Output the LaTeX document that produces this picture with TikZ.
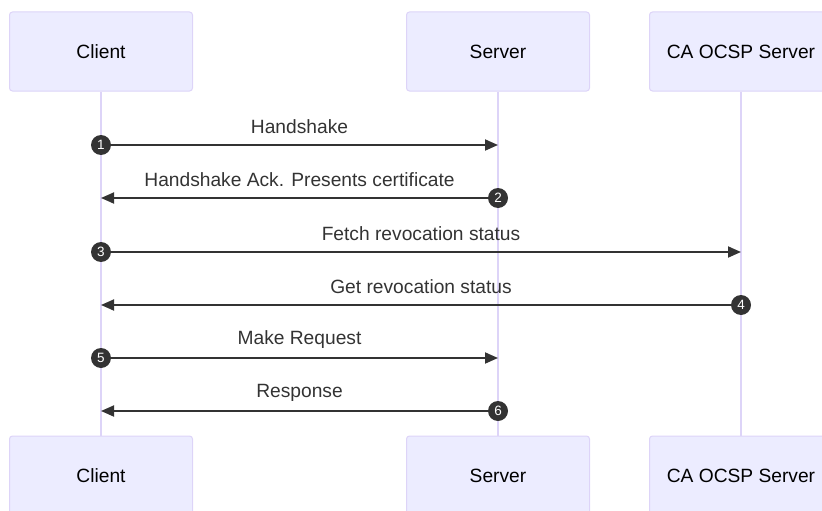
\documentclass[tikz,border=0pt]{standalone}
\usepackage{fontspec}
\setmainfont{Liberation Sans}
\usetikzlibrary{arrows.meta}

\definecolor{actorfill}{HTML}{ECECFF}
\definecolor{actorline}{HTML}{DDD4F8}
\definecolor{msgline}{HTML}{333333}

\begin{document}
\begin{tikzpicture}[x=1pt, y=-1pt,
    actor/.style={draw=actorline, fill=actorfill, line width=1pt, rounded corners=3pt,
      minimum width=183pt, minimum height=79pt, font=\fontsize{19.2}{23}\selectfont},
    lifeline/.style={draw=actorline, line width=1.8pt},
    msg/.style={draw=msgline, line width=1.8pt, -{Triangle[length=13pt, width=11pt]}},
    msglabel/.style={font=\fontsize{19.2}{23}\selectfont, text=msgline, yshift=18pt},
    seqnum/.style={circle, fill=msgline, inner sep=0pt, minimum size=20pt,
      text=white, font=\fontsize{13.5}{16}\selectfont}]
  \useasboundingbox (0,0) rectangle (822,511);

  % Draw the actors and their lifelines
  \foreach \name/\x/\txt in {client/101/Client, server/498/Server, ca/741/CA OCSP Server} {
    \node[actor] (\name top) at (\x,51.5) {\txt};
    \node[actor] (\name bot) at (\x,475.5) {\txt};
    \draw[lifeline] (\name top) -- (\name bot);
  }

  % Draw the messages
  \foreach \n/\from/\to/\y/\txt in {1/client/server/145/Handshake,
      2/server/client/198/Handshake Ack. Presents certificate,
      3/client/ca/252/Fetch revocation status,
      4/ca/client/305/Get revocation status,
      5/client/server/358/Make Request,
      6/server/client/411/Response} {
    \coordinate (s\n) at (\from top |- 0,\y);
    \coordinate (e\n) at (\to top |- 0,\y);
    \draw[msg] (s\n) -- node[msglabel] (l\n) {\txt} (e\n);
    \node[seqnum] (n\n) at (s\n) {\n};
  }
\end{tikzpicture}
\end{document}
